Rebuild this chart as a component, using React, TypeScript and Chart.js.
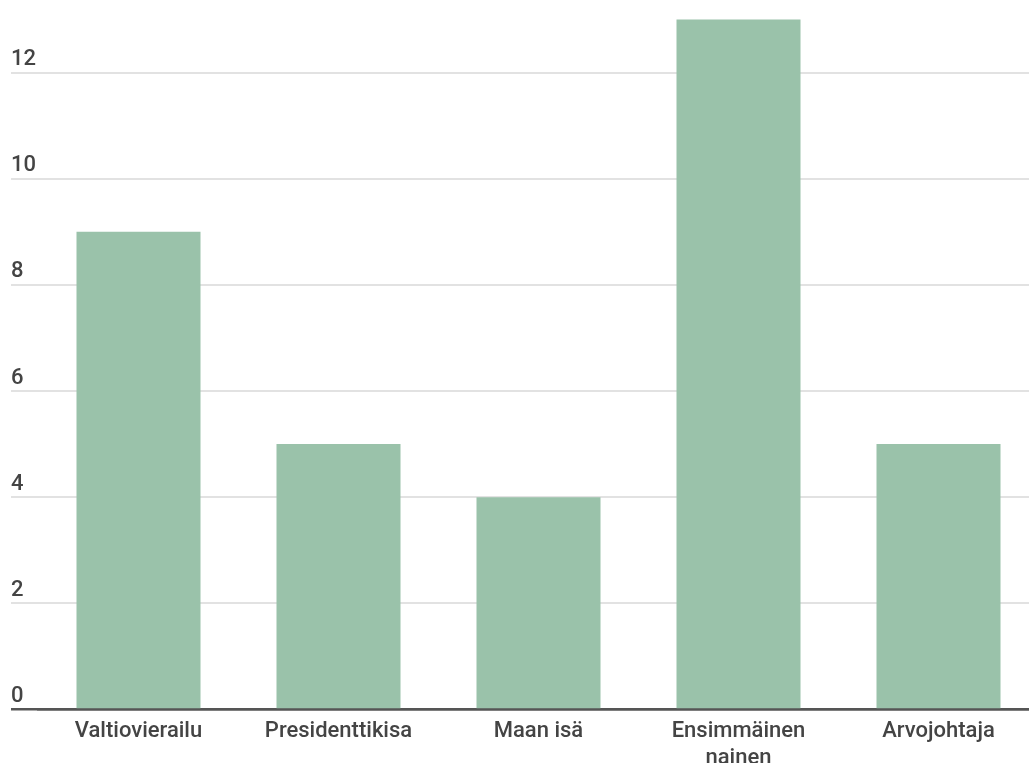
import React, { useEffect, useRef } from "react";
import { Chart, registerables } from "chart.js";

Chart.register(...registerables);

const categories: (string | string[])[] = [
  "Valtiovierailu",
  "Presidenttikisa",
  "Maan isä",
  ["Ensimmäinen", "nainen"],
  "Arvojohtaja",
];
const values: number[] = [9, 5, 4, 13, 5];
const yTicks: number[] = [0, 2, 4, 6, 8, 10, 12];

const BAR_COLOR = "#9ac2aa";
const GRID_COLOR = "#e2e2e2";
const BASE_COLOR = "#555555";
const TEXT_COLOR = "#444444";
const FONT = "Roboto";

export default function App() {
  const ref = useRef<HTMLCanvasElement | null>(null);

  useEffect(() => {
    document.body.style.margin = "0";
    if (!ref.current) return;
    const chart = new Chart(ref.current, {
      type: "bar",
      data: {
        labels: categories,
        datasets: [
          {
            data: values,
            backgroundColor: BAR_COLOR,
            borderWidth: 0,
            barPercentage: 0.62,
            categoryPercentage: 1,
          },
        ],
      },
      options: {
        animation: false,
        responsive: true,
        maintainAspectRatio: false,
        layout: { padding: { left: 11, top: 3.5, right: 1.5, bottom: 0 } },
        plugins: { legend: { display: false }, tooltip: { enabled: false } },
        scales: {
          x: {
            offset: true,
            z: 1,
            grid: { display: false, drawTicks: false },
            border: { display: true, color: BASE_COLOR, width: 2.5 },
            ticks: {
              color: TEXT_COLOR,
              font: { family: FONT, size: 22, weight: "500" },
              padding: 9,
              maxRotation: 0,
              autoSkip: false,
            },
            afterFit: (s: any) => {
              s.height = 53.5;
              s.paddingLeft = 0;
              s.paddingRight = 0;
            },
          },
          y: {
            min: 0,
            max: 13.3,
            afterBuildTicks: (s: any) => {
              s.ticks = yTicks.map((v) => ({ value: v }));
            },
            grid: {
              drawTicks: true,
              tickLength: 27.5,
              color: (c: any) => (c.tick && c.tick.value === 0 ? BASE_COLOR : GRID_COLOR),
              lineWidth: (c: any) => (c.tick && c.tick.value === 0 ? 2.5 : 2),
            },
            border: { display: false },
            ticks: {
              color: TEXT_COLOR,
              font: { family: FONT, size: 22, weight: "500" },
              padding: 0,
              crossAlign: "far",
              labelOffset: -13,
            },
            afterFit: (s: any) => {
              s.width = 27.5;
              s.paddingTop = 0;
              s.paddingBottom = 0;
            },
          },
        },
      },
    });
    return () => chart.destroy();
  }, []);

  return (
    <div style={{ width: 1029, height: 763, overflow: "hidden" }}>
      <div style={{ position: "relative", width: 1040, height: 763 }}>
        <canvas ref={ref} />
      </div>
    </div>
  );
}
